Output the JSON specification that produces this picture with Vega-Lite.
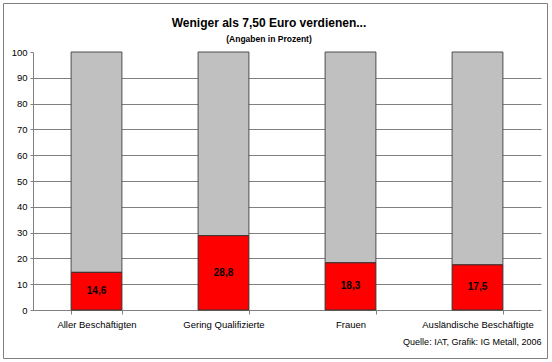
{
  "$schema": "https://vega.github.io/schema/vega-lite/v6.json",
  "width": 544,
  "height": 355,
  "autosize": {"type": "none"},
  "padding": {"left": 3, "top": 3, "right": 5, "bottom": 4},
  "background": "white",
  "config": {
    "view": {"stroke": "#808080", "strokeWidth": 1},
    "font": "Liberation Sans",
    "locale": {"number": {"decimal": ",", "thousands": ".", "grouping": [3], "currency": ["", " €"]}}
  },
  "title": {
    "text": "Weniger als 7,50 Euro verdienen...",
    "subtitle": "(Angaben in Prozent)",
    "anchor": "middle",
    "frame": "group",
    "offset": -41,
    "dx": -6,
    "font": "Liberation Sans",
    "fontSize": 12,
    "fontWeight": "bold",
    "color": "black",
    "subtitleFont": "Liberation Sans",
    "subtitleFontSize": 8.5,
    "subtitleFontWeight": "bold",
    "subtitleColor": "black",
    "subtitlePadding": 5
  },
  "data": {
    "values": [
      {"kategorie": "Aller Beschäftigten", "anteil": 14.6},
      {"kategorie": "Gering Qualifizierte", "anteil": 28.8},
      {"kategorie": "Frauen", "anteil": 18.3},
      {"kategorie": "Ausländische Beschäftigte", "anteil": 17.5}
    ]
  },
  "encoding": {
    "x": {
      "field": "kategorie",
      "type": "nominal",
      "sort": null,
      "scale": {"range": [30, 538], "paddingInner": 0.6, "paddingOuter": 0.3},
      "axis": {
        "orient": "bottom",
        "offset": -48,
        "tickBand": "extent",
        "tickSize": 4,
        "domainColor": "#808080",
        "tickColor": "#808080",
        "labelAngle": 0,
        "labelFont": "Liberation Sans",
        "labelFontSize": 9.5,
        "labelColor": "black",
        "labelPadding": 5,
        "title": "Quelle: IAT, Grafik: IG Metall, 2006",
        "titleAnchor": "end",
        "titleFont": "Liberation Sans",
        "titleFontSize": 9,
        "titleFontWeight": "normal",
        "titleColor": "black",
        "titlePadding": 9,
        "grid": false
      }
    }
  },
  "layer": [
    {
      "mark": {"type": "bar", "fill": "#C0C0C0", "stroke": "#4d4d4d", "strokeWidth": 1},
      "encoding": {
        "y": {
          "field": "anteil",
          "type": "quantitative",
          "scale": {"domain": [0, 100], "range": [307, 49]},
          "axis": {
            "orient": "left",
            "offset": -30,
            "values": [0, 10, 20, 30, 40, 50, 60, 70, 80, 90, 100],
            "tickSize": 3,
            "domainColor": "#808080",
            "tickColor": "#808080",
            "labelFont": "Liberation Sans",
            "labelFontSize": 9.5,
            "labelColor": "black",
            "labelPadding": 3,
            "title": null,
            "grid": true,
            "gridColor": "#808080",
            "gridOpacity": {"condition": {"test": "datum.value >= 100 || datum.value <= 0", "value": 0}, "value": 1}
          }
        },
        "y2": {"datum": 100}
      }
    },
    {
      "mark": {"type": "bar", "fill": "#FF0000", "stroke": "#333333", "strokeWidth": 1},
      "encoding": {
        "y": {
          "field": "anteil",
          "type": "quantitative",
          "scale": {"domain": [0, 100], "range": [307, 49]},
          "axis": null
        }
      }
    },
    {
      "mark": {"type": "text", "font": "Liberation Sans", "fontSize": 10, "fontWeight": "bold", "color": "black", "baseline": "middle", "align": "center"},
      "encoding": {
        "y": {
          "field": "anteil",
          "type": "quantitative",
          "scale": {"domain": [0, 200], "range": [307, 49]},
          "axis": null
        },
        "text": {"field": "anteil", "type": "quantitative", "format": ".1f"}
      }
    }
  ],
  "resolve": {"scale": {"y": "independent"}}
}
